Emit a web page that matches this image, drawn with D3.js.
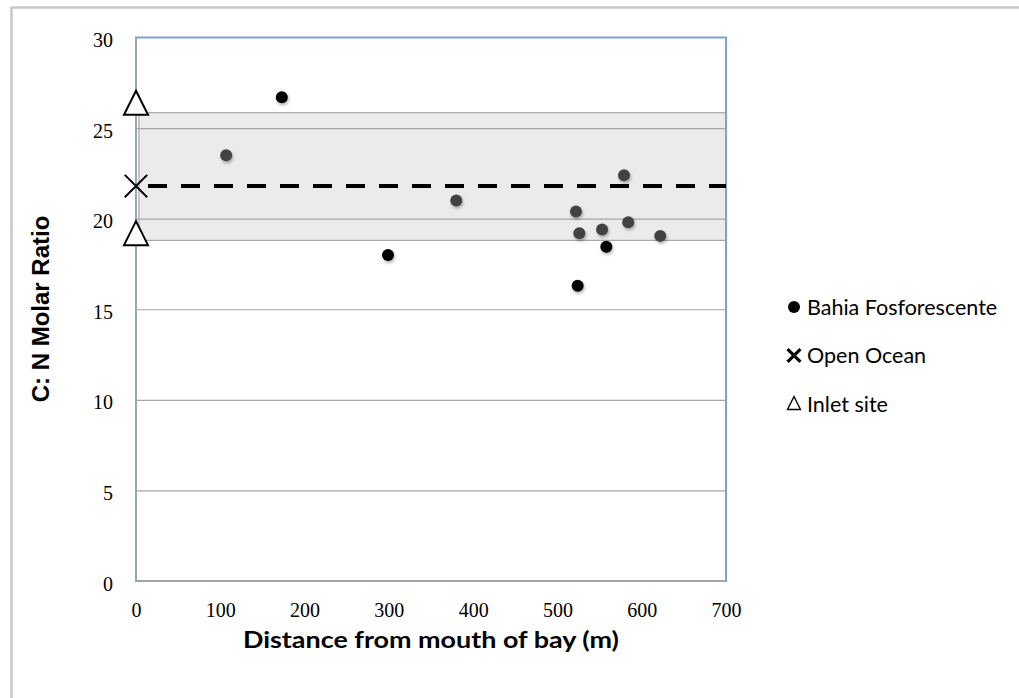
<!DOCTYPE html>
<html lang="en">
    <head>
        <meta charset="utf-8">
        <title>C:N Molar Ratio</title>
        <script src="https://d3js.org/d3.v7.min.js"></script>
        <style>
            body { margin: 0; background: #fff; }
        </style>
    </head>

    <body>
        <div id="chart"></div>

        <script>

            // data
            var bahiaDistance = [173, 299, 524, 558];
            var bahiaRatio    = [26.7, 18.0, 16.3, 18.45];
            var bahiaDistance2 = [107, 380, 522, 526, 553, 579, 584, 622];
            var bahiaRatio2    = [23.5, 21.0, 20.4, 19.2, 19.4, 22.4, 19.8, 19.05];
            var oceanDistance = [0];
            var oceanRatio    = [21.8];
            var inletDistance = [0, 0];
            var inletRatio    = [26.4, 19.2];
            var bandRange = [18.8, 25.85];
            var xTicks = [0, 100, 200, 300, 400, 500, 600, 700];
            var yTicks = [0, 5, 10, 15, 20, 25, 30];
            var legendLabels = ["Bahia Fosforescente", "Open Ocean", "Inlet site"];

            var margin = { top: 37.5, left: 136 };
            var width = 726 - 136;
            var height = 581 - 37.5;

            var svg = d3.select("#chart")
                        .append("svg")
                        .attr("width", 1019)
                        .attr("height", 698);

            // outer chart border (only top and left visible)
            svg.append("rect")
                .attr("x", 11.5).attr("y", 7.5)
                .attr("width", 1200).attr("height", 900)
                .style("fill", "none")
                .style("stroke", "#c8c8c8")
                .style("stroke-width", 2.5);

            var g = svg.append("g")
                .attr("transform", "translate(" + margin.left + "," + margin.top + ")");

            var x = d3.scaleLinear().domain([0, 700]).range([0, width]);
            var y = d3.scaleLinear().domain([0, 30]).range([height, 0]);

            // shaded band
            g.append("rect")
                .attr("x", x(3.5))
                .attr("y", y(bandRange[1]))
                .attr("width", x(700) - x(3.5))
                .attr("height", y(bandRange[0]) - y(bandRange[1]))
                .style("fill", "#ebebeb")
                .style("stroke", "#a8a8a8")
                .style("stroke-width", 1.2);

            // gridlines
            g.append("g")
                .call(d3.axisLeft(y).tickValues(yTicks.slice(1, -1)).tickSize(-width).tickFormat(""))
                .call(function(s){ s.select(".domain").remove(); })
                .selectAll(".tick line")
                .attr("stroke", "#a6a6a6")
                .attr("stroke-width", 1.2);

            // plot border
            g.append("rect")
                .attr("x", 0).attr("y", 0)
                .attr("width", width).attr("height", height)
                .style("fill", "none")
                .style("stroke", "#7fa3cf")
                .style("stroke-width", 2);

            // axes lines (gray over the border)
            g.append("line")
                .attr("x1", 0).attr("x2", width)
                .attr("y1", height).attr("y2", height)
                .style("stroke", "#a3a3a3").style("stroke-width", 2);
            g.append("line")
                .attr("x1", 0).attr("x2", 0)
                .attr("y1", 0).attr("y2", height)
                .style("stroke", "#98a6b8").style("stroke-width", 2);

            // tick labels
            var yAxis = g.append("g")
                .call(d3.axisLeft(y).tickValues(yTicks).tickSize(0).tickPadding(23));
            yAxis.select(".domain").remove();
            yAxis.selectAll("text")
                .attr("dy", "0.45em")
                .style("font-family", "'Liberation Serif', serif")
                .style("font-size", "20px")
                .style("fill", "#000");

            var xAxis = g.append("g")
                .attr("transform", "translate(0," + height + ")")
                .call(d3.axisBottom(x).tickValues(xTicks).tickSize(0).tickPadding(22));
            xAxis.select(".domain").remove();
            xAxis.selectAll("text")
                .style("font-family", "'Liberation Serif', serif")
                .style("font-size", "20px")
                .style("fill", "#000");

            // axis titles
            svg.append("text")
                .attr("x", 431)
                .attr("y", 648)
                .attr("text-anchor", "middle")
                .attr("textLength", 376)
                .attr("lengthAdjust", "spacingAndGlyphs")
                .style("font-family", "Lato, sans-serif")
                .style("font-weight", "bold")
                .style("font-size", "23px")
                .text("Distance from mouth of bay (m)");

            svg.append("text")
                .attr("transform", "translate(49,309) rotate(-90)")
                .attr("text-anchor", "middle")
                .style("font-family", "'Liberation Sans', Arial, sans-serif")
                .style("font-weight", "bold")
                .style("font-size", "24px")
                .text("C: N Molar Ratio");

            // shadow for dots
            var defs = svg.append("defs");
            var f = defs.append("filter").attr("id", "shadow")
                .attr("x", "-50%").attr("y", "-50%").attr("width", "200%").attr("height", "200%");
            f.append("feDropShadow")
                .attr("dx", 1).attr("dy", 2)
                .attr("stdDeviation", 1.5)
                .attr("flood-color", "#000")
                .attr("flood-opacity", 0.3);

            // open ocean dashed line
            g.append("line")
                .attr("x1", x(oceanDistance[0])).attr("x2", x(700))
                .attr("y1", y(oceanRatio[0])).attr("y2", y(oceanRatio[0]))
                .style("stroke", "#000")
                .style("stroke-width", 4)
                .style("stroke-dasharray", "19,14")
                .style("stroke-dashoffset", 21);

            // bahia points
            g.append("g").selectAll("circle.g2")
                .data(d3.range(bahiaDistance2.length))
                .enter().append("circle")
                .attr("cx", function(i){ return x(bahiaDistance2[i]); })
                .attr("cy", function(i){ return y(bahiaRatio2[i]); })
                .attr("r", 6)
                .attr("filter", "url(#shadow)")
                .style("fill", "#434343");

            g.append("g").selectAll("circle.g1")
                .data(d3.range(bahiaDistance.length))
                .enter().append("circle")
                .attr("cx", function(i){ return x(bahiaDistance[i]); })
                .attr("cy", function(i){ return y(bahiaRatio[i]); })
                .attr("r", 6)
                .attr("filter", "url(#shadow)")
                .style("fill", "#000");

            // open ocean X
            var cross = d3.symbol().type(d3.symbolX).size(330);
            g.append("g").selectAll("path")
                .data(d3.range(oceanDistance.length))
                .enter().append("path")
                .attr("d", cross)
                .attr("transform", function(i){
                    return "translate(" + x(oceanDistance[i]) + "," + y(oceanRatio[i]) + ")";
                })
                .style("fill", "none")
                .style("stroke", "#000")
                .style("stroke-width", 2);

            // inlet triangles (outline, centred on bbox)
            function tri(s){
                return "M0," + (-s/2) + "L" + (s/2) + "," + (s/2) + "L" + (-s/2) + "," + (s/2) + "Z";
            }
            g.append("g").selectAll("path")
                .data(d3.range(inletDistance.length))
                .enter().append("path")
                .attr("d", tri(24))
                .attr("transform", function(i){
                    return "translate(" + x(inletDistance[i]) + "," + y(inletRatio[i]) + ")";
                })
                .style("fill", "#fff")
                .style("stroke", "#000")
                .style("stroke-width", 2);

            // legend
            var legend = svg.append("g").attr("transform", "translate(794,307)");
            var rowGap = 48.5;
            legend.append("circle")
                .attr("cx", 0).attr("cy", 0).attr("r", 6)
                .style("fill", "#000");
            legend.append("path")
                .attr("d", d3.symbol().type(d3.symbolX).size(110))
                .attr("transform", "translate(0," + rowGap + ")")
                .style("stroke", "#000").style("stroke-width", 3.2);
            legend.append("path")
                .attr("d", tri(13))
                .attr("transform", "translate(0," + (rowGap * 2 - 1) + ")")
                .style("fill", "none")
                .style("stroke", "#000").style("stroke-width", 1.4);

            legend.selectAll("text")
                .data(legendLabels)
                .enter().append("text")
                .attr("x", 13)
                .attr("y", function(d, i){ return i * rowGap + 7.5; })
                .style("font-family", "Lato, sans-serif")
                .style("font-size", "21.5px")
                .style("fill", "#000")
                .text(function(d){ return d; });

        </script>
    </body>
</html>
